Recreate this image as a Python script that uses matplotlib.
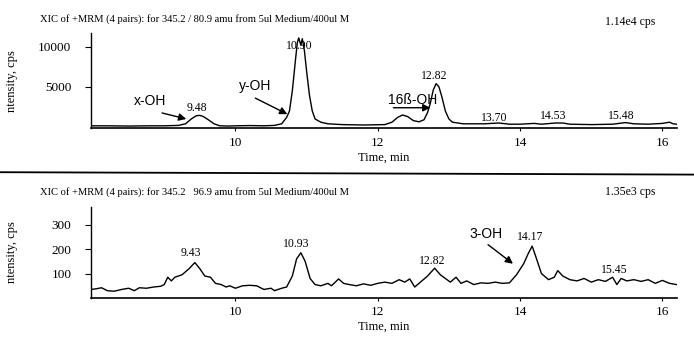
import matplotlib
matplotlib.use("Agg")
import matplotlib.pyplot as plt
from matplotlib.lines import Line2D

plt.rcParams['font.family'] = ['Liberation Serif', 'DejaVu Serif']

# XIC 345.2 / 80.9 (upper trace), time in min, intensity in cps
t_top = [7.97, 8.2, 8.5, 8.8, 9.0, 9.2, 9.3, 9.38, 9.45, 9.5, 9.55, 9.62, 9.7, 9.78,
         9.9, 10.0, 10.2, 10.4, 10.55, 10.65, 10.72, 10.76, 10.80, 10.84, 10.87, 10.89,
         10.92, 10.94, 10.97, 11.0, 11.04, 11.08, 11.12, 11.2, 11.3, 11.5, 11.8, 12.1,
         12.2, 12.28, 12.35, 12.42, 12.5, 12.58, 12.65, 12.7, 12.74, 12.78, 12.82, 12.86,
         12.9, 12.95, 13.0, 13.05, 13.2, 13.5, 13.7, 13.85, 14.0, 14.2, 14.3, 14.5, 14.6,
         14.7, 15.0, 15.3, 15.48, 15.6, 15.8, 16.0, 16.1, 16.15, 16.2]
i_top = [150, 150, 120, 150, 150, 200, 400, 1000, 1400, 1450, 1300, 900, 400, 150,
         120, 150, 180, 150, 200, 400, 1200, 2000, 4500, 8000, 10500, 11100,
         10200, 11000, 9500, 7000, 4000, 2000, 1000, 600, 400, 300, 250, 300,
         600, 1200, 1500, 1300, 800, 650, 900, 1800, 3000, 4600, 5400, 5000,
         3800, 2000, 1000, 600, 400, 400, 500, 350, 350, 450, 350, 500, 500,
         350, 300, 350, 550, 400, 350, 450, 600, 400, 350]

# XIC 345.2 / 96.9 (lower trace)
t_bot = [7.97, 8.05, 8.12, 8.2, 8.3, 8.4, 8.5, 8.58, 8.65, 8.75, 8.85, 8.95, 9.0, 9.05,
         9.1, 9.15, 9.25, 9.35, 9.43, 9.5, 9.57, 9.65, 9.72, 9.8, 9.87, 9.92, 10.0, 10.1,
         10.2, 10.3, 10.4, 10.5, 10.55, 10.65, 10.72, 10.8, 10.86, 10.92, 10.98, 11.05,
         11.12, 11.2, 11.3, 11.35, 11.45, 11.52, 11.6, 11.7, 11.8, 11.9, 12.0, 12.1, 12.2,
         12.3, 12.38, 12.45, 12.52, 12.6, 12.7, 12.8, 12.88, 12.95, 13.02, 13.1, 13.17,
         13.25, 13.35, 13.45, 13.55, 13.65, 13.75, 13.85, 13.95, 14.05, 14.12, 14.17,
         14.22, 14.3, 14.4, 14.48, 14.53, 14.6, 14.7, 14.8, 14.9, 15.0, 15.1, 15.2, 15.3,
         15.36, 15.42, 15.5, 15.6, 15.7, 15.8, 15.9, 16.0, 16.1, 16.2]
i_bot = [35, 38, 42, 30, 28, 35, 40, 30, 42, 40, 45, 48, 55, 85,
         70, 85, 95, 120, 145, 120, 90, 85, 60, 55, 45, 50, 40, 50,
         52, 50, 35, 40, 30, 40, 45, 90, 160, 185, 150, 80,
         55, 50, 60, 50, 78, 60, 55, 50, 58, 52, 60, 65, 60,
         75, 65, 78, 45, 65, 90, 122, 95, 80, 65, 85, 60,
         70, 55, 62, 60, 65, 60, 62, 95, 140, 185, 212,
         170, 100, 75, 85, 112, 90, 75, 70, 80, 65, 75, 68, 85,
         55, 80, 70, 75, 68, 75, 60, 72, 60, 55]

# peak labels: (text, time, intensity)
labels_top = [("9.48", 9.46, 2400), ("10.90", 10.90, 10100), ("12.82", 12.79, 6400),
              ("13.70", 13.63, 1150), ("14.53", 14.47, 1400), ("15.48", 15.42, 1400)]
labels_bot = [("9.43", 9.38, 184), ("10.93", 10.85, 220), ("12.82", 12.76, 151),
              ("14.17", 14.14, 250), ("15.45", 15.33, 114)]

fig = plt.figure(figsize=(6.94, 3.41), dpi=100)
ax1 = fig.add_axes([0.131, 0.624, 0.844, 0.279])
ax2 = fig.add_axes([0.131, 0.126, 0.844, 0.267])

for ax in (ax1, ax2):
    ax.spines['top'].set_visible(False)
    ax.spines['right'].set_visible(False)
    ax.spines['left'].set_linewidth(1.0)
    ax.spines['bottom'].set_linewidth(1.2)
    ax.set_xlim(7.97, 16.2)
    ax.set_xticks([10, 12, 14, 16])
    ax.tick_params(axis='x', direction='out', length=2.5, width=0.8, labelsize=9.5)
    ax.tick_params(axis='y', direction='out', length=4, width=0.8, labelsize=9.5, pad=10)
    ax.set_xlabel('Time, min', fontsize=9, labelpad=2)
    ax.set_ylabel('ntensity, cps', fontsize=9)
    ax.yaxis.set_label_coords(-0.125, 0.5)

ax1.plot(t_top, i_top, color='black', lw=1.0)
ax1.set_ylim(-150, 11700)
ax1.set_yticks([5000, 10000])

ax2.plot(t_bot, i_bot, color='black', lw=1.0)
ax2.set_ylim(0, 372)
ax2.set_yticks([100, 200, 300])

for txt, x, y in labels_top:
    ax1.text(x, y, txt, ha='center', va='center', fontsize=8.5)
for txt, x, y in labels_bot:
    ax2.text(x, y, txt, ha='center', va='center', fontsize=8.5)

arrow = dict(arrowstyle='-|>', color='black', lw=1.0, mutation_scale=11,
             shrinkA=0, shrinkB=0)
sans = ['Liberation Sans', 'DejaVu Sans']
ax1.text(8.80, 3250, 'x-OH', ha='center', va='center', fontsize=10, family=sans)
ax1.annotate('', xy=(9.31, 1000), xytext=(8.97, 1750), arrowprops=arrow)
ax1.text(10.28, 5100, 'y-OH', ha='center', va='center', fontsize=10, family=sans)
ax1.annotate('', xy=(10.73, 1600), xytext=(10.28, 3600), arrowprops=arrow)
ax1.text(12.49, 3400, '16ß-OH', ha='center', va='center', fontsize=10, family=sans)
ax1.annotate('', xy=(12.74, 2400), xytext=(12.22, 2400), arrowprops=arrow)
ax2.text(13.52, 262, '3-OH', ha='center', va='center', fontsize=10, family=sans)
ax2.annotate('', xy=(13.9, 140), xytext=(13.55, 218), arrowprops=arrow)

fig.text(0.058, 0.945, 'XIC of +MRM (4 pairs): for 345.2 / 80.9 amu from 5ul Medium/400ul M',
         fontsize=7.6, va='center')
fig.text(0.944, 0.935, '1.14e4 cps', fontsize=8.5, va='center', ha='right')
fig.text(0.058, 0.437, 'XIC of +MRM (4 pairs): for 345.2   96.9 amu from 5ul Medium/400ul M',
         fontsize=7.6, va='center')
fig.text(0.944, 0.437, '1.35e3 cps', fontsize=8.5, va='center', ha='right')

# separator between the two chromatograms
fig.add_artist(Line2D([0.0, 1.0], [0.495, 0.488], color='black', lw=1.3,
                      transform=fig.transFigure))

fig.savefig('out.png', dpi=100)
